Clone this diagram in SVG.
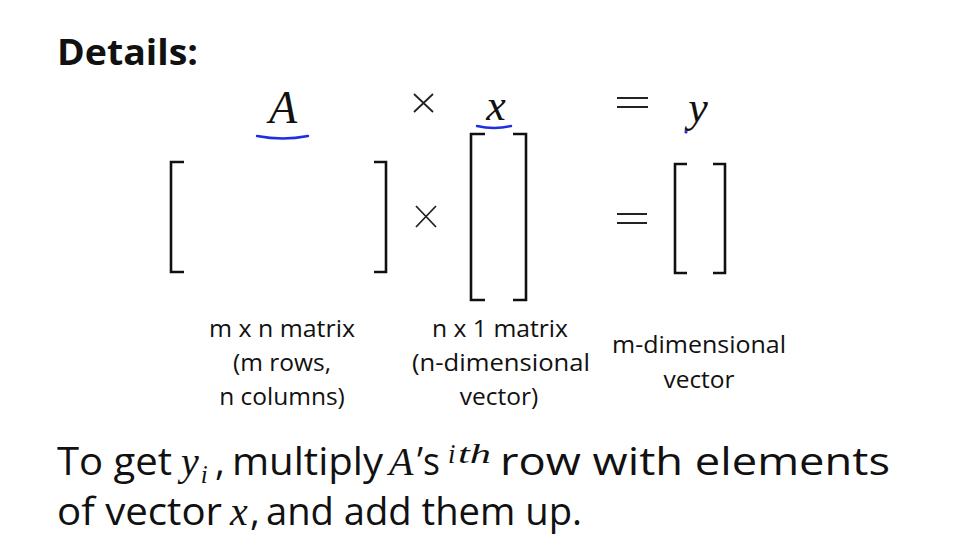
<svg xmlns="http://www.w3.org/2000/svg" width="962" height="559" viewBox="0 0 962 559">
<style>
.sans{font-family:"Open Sans","Noto Sans","Liberation Sans",sans-serif;fill:#111;}
.math{font-family:"Liberation Serif","DejaVu Serif",serif;font-style:italic;fill:#111;}
.lbl{font-family:"Open Sans","Noto Sans","Liberation Sans",sans-serif;font-size:24.5px;fill:#111;text-anchor:middle;}
.br{fill:none;stroke:#111;stroke-width:2.6;stroke-linecap:butt;stroke-linejoin:miter;}
.op{fill:none;stroke:#222;stroke-width:1.8;}
.ink{fill:none;stroke:#1f2fe0;stroke-width:2.4;stroke-linecap:round;}
</style>
<rect width="962" height="559" fill="#ffffff"/>

<g id="title">
<text class="sans" x="57" y="65" font-size="35" font-weight="bold" textLength="141" lengthAdjust="spacingAndGlyphs">Details:</text>
</g>

<g id="header">
<text class="math" x="283" y="123" font-size="46" text-anchor="middle">A</text>
<path class="ink" d="M257 136 Q283 141 308 136"/>
<path class="op" d="M414 94 L433 112 M433 94 L414 112"/>
<text class="math" x="496" y="120" font-size="44" text-anchor="middle">x</text>
<path class="ink" d="M477 126 Q494 130 511 126"/>
<path class="op" d="M617 98 H648 M617 107 H648" stroke-width="2.4"/>
<text class="math" x="698" y="122" font-size="44" text-anchor="middle">y</text>
<circle cx="686" cy="132" r="1.6" fill="#1f2fe0"/>
</g>

<g id="matrixA">
<path class="br" d="M184 162 H171 V272 H184"/>
<path class="br" d="M374 162 H386 V272 H374"/>
</g>

<g id="times">
<path class="op" d="M416 206 L436 227 M436 206 L416 227"/>
</g>

<g id="vectorX">
<path class="br" d="M485 134 H471 V300 H485"/>
<path class="br" d="M513 134 H526 V300 H513"/>
</g>

<g id="equals">
<path class="op" d="M617 214 H647 M617 223 H647" stroke-width="2.4"/>
</g>

<g id="vectorY">
<path class="br" d="M687 164 H675 V273 H687"/>
<path class="br" d="M713 164 H725 V273 H713"/>
</g>

<g id="labelA">
<text class="lbl" x="282" y="337" textLength="146" lengthAdjust="spacingAndGlyphs">m x n matrix</text>
<text class="lbl" x="282" y="371">(m rows,</text>
<text class="lbl" x="282" y="405">n columns)</text>
</g>

<g id="labelX">
<text class="lbl" x="500" y="337" textLength="136" lengthAdjust="spacingAndGlyphs">n x 1 matrix</text>
<text class="lbl" x="501" y="371" textLength="178" lengthAdjust="spacingAndGlyphs">(n-dimensional</text>
<text class="lbl" x="499" y="405">vector)</text>
</g>

<g id="labelY">
<text class="lbl" x="699" y="353" textLength="174" lengthAdjust="spacingAndGlyphs">m-dimensional</text>
<text class="lbl" x="699" y="388">vector</text>
</g>

<g id="caption">
<text class="sans" x="57" y="475" font-size="38" textLength="115" lengthAdjust="spacingAndGlyphs">To get</text>
<text class="math" x="181" y="475" font-size="40">y<tspan dx="2" dy="8" font-size="25">i</tspan></text>
<text class="sans" x="215" y="475" font-size="38">,</text>
<text class="sans" x="232" y="475" font-size="38" textLength="151" lengthAdjust="spacingAndGlyphs">multiply</text>
<text class="math" x="389" y="475" font-size="40">A</text>
<text class="sans" x="417" y="475" font-size="38" textLength="23" lengthAdjust="spacingAndGlyphs">’s</text>
<text class="math" x="448" y="463" font-size="27">i</text>
<text class="math" x="458" y="463" font-size="27" textLength="33" lengthAdjust="spacingAndGlyphs">th</text>
<text class="sans" x="500" y="475" font-size="38" textLength="390" lengthAdjust="spacingAndGlyphs">row with elements</text>
<text class="sans" x="57" y="525" font-size="38" textLength="165" lengthAdjust="spacingAndGlyphs">of vector</text>
<text class="math" x="230" y="525" font-size="40">x</text>
<text class="sans" x="250" y="525" font-size="38">,</text>
<text class="sans" x="266" y="525" font-size="38" textLength="316" lengthAdjust="spacingAndGlyphs">and add them up.</text>
</g>
</svg>
